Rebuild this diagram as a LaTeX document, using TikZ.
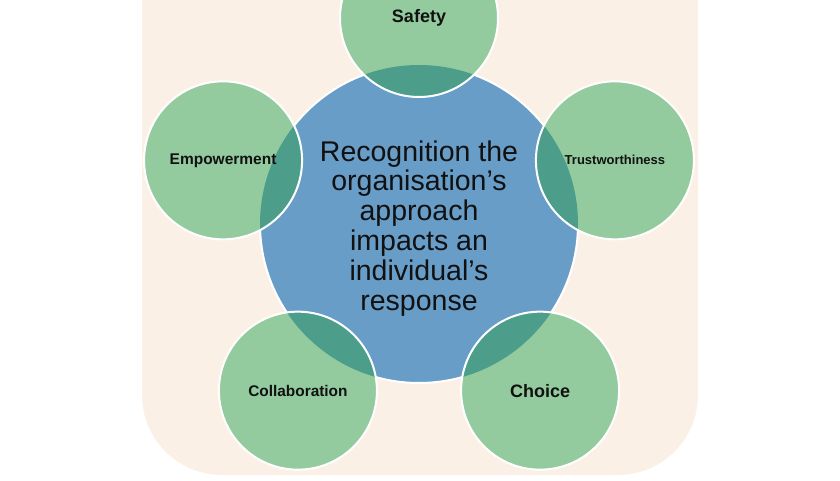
\documentclass[tikz,border=0pt]{standalone}
\usepackage{fontspec}
\setmainfont{Liberation Sans}
\usepackage{xcolor}
\usepackage{tikz}
\usetikzlibrary{positioning}
\definecolor{peach}{RGB}{251, 240, 230}
\definecolor{coreblue}{RGB}{104, 157, 200}
\definecolor{leafgreen}{RGB}{147, 203, 158}
\definecolor{overlapteal}{RGB}{76, 158, 139}
\definecolor{inkblack}{RGB}{17, 17, 17}

\begin{document}
\begin{tikzpicture}[
	x=1pt, y=1pt,
	core/.style={circle, draw=white, line width=2pt, fill=coreblue, minimum size=318pt, inner sep=0pt, align=center, text=inkblack, font=\fontsize{28.5}{29.8}\selectfont},
	leaf/.style={circle, draw=white, line width=2pt, fill=leafgreen, minimum size=158pt, inner sep=0pt, text=inkblack, align=center,
		path picture={\fill[overlapteal] (core.center) circle (159pt);}},
	backdrop/.style={fill=peach, rounded corners=80pt}
]

	% Page and background panel
	\clip (0,0) rectangle (840,480);
	\fill[backdrop] (142,5) rectangle (698,620);

	% 1. Centre
	\node[core] (core) at (419,256) {\rule{0pt}{29pt}Recognition the\\organisation’s\\approach\\impacts an\\individual’s\\response};

	% 2. Principles around the centre
	\node[leaf, font=\bfseries\fontsize{18}{20}\selectfont] (safety) at ([shift={(90:206pt)}]core.center) {Safety};
	\node[leaf, font=\bfseries\fontsize{13}{15}\selectfont] (trust) at ([shift={(18:206pt)}]core.center) {Trustworthiness};
	\node[leaf, font=\bfseries\fontsize{18}{20}\selectfont] (choice) at ([shift={(306:206pt)}]core.center) {Choice};
	\node[leaf, font=\bfseries\fontsize{15.4}{17}\selectfont] (collab) at ([shift={(234:206pt)}]core.center) {Collaboration};
	\node[leaf, font=\bfseries\fontsize{15.5}{17}\selectfont] (empower) at ([shift={(162:206pt)}]core.center) {Empowerment};

\end{tikzpicture}
\end{document}
